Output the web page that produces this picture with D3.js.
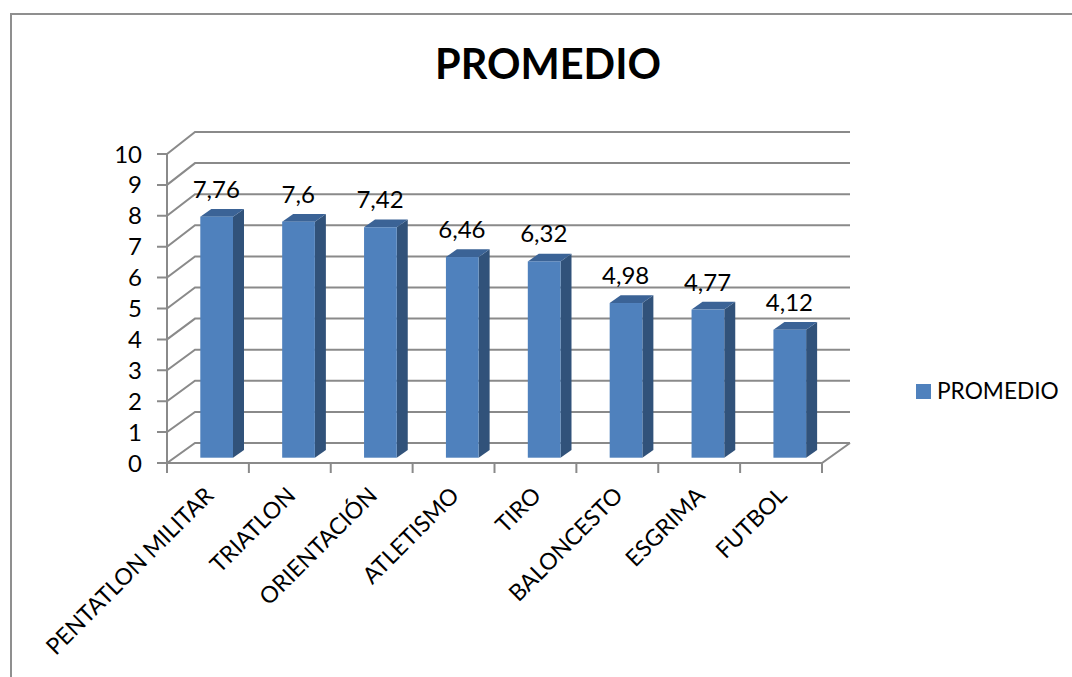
<!DOCTYPE html>
<html><head><meta charset="utf-8">
<script src="https://cdnjs.cloudflare.com/ajax/libs/d3/7.8.5/d3.min.js"></script>
<style>html,body{margin:0;padding:0;background:#fff}svg{display:block}text{font-family:Lato,"Open Sans",sans-serif;fill:#000}</style>
</head><body><svg id="c" width="1072" height="677"></svg>
<script>
const categories=["PENTATLON MILITAR","TRIATLON","ORIENTACIÓN","ATLETISMO","TIRO","BALONCESTO","ESGRIMA","FUTBOL"];
const valueLabels=["7,76","7,6","7,42","6,46","6,32","4,98","4,77","4,12"];
const values=[7.76,7.6,7.42,6.46,6.32,4.98,4.77,4.12];
const yTicks=[0,1,2,3,4,5,6,7,8,9,10];
const seriesName="PROMEDIO";
const svg=d3.select("#c");
const GRID="#8a8a8a",FRONT="#4f81bd",SIDE="#31527a",TOP="#3b6396";
// frame
svg.append("path").attr("d","M11,677V14H1072").attr("fill","none").attr("stroke","#8f8f8f").attr("stroke-width",2);
svg.append("text").attr("x",548).attr("y",79).attr("text-anchor","middle").attr("font-weight",700).attr("font-size",41.5).text("PROMEDIO");
const x=d3.scaleBand().domain(categories).range([167,822]);
const yFront=d3.scaleLinear().domain([0,10]).range([463,154]);
const yBack=d3.scaleLinear().domain([0,10]).range([443,132]);
const yBar=d3.scaleLinear().domain([0,10]).range([457.7,147.1]);
const g=svg.append("g").attr("fill","none").attr("stroke",GRID).attr("stroke-width",2);
// wall gridlines + diagonals + tick marks
yTicks.forEach(t=>{
 g.append("path").attr("d",`M157,${yFront(t)}H167L195,${yBack(t)}H850`);
});
g.append("path").attr("d",`M167,${yFront(10)}V${yFront(0)}H822L850,${yBack(0)}`);
// x ticks
d3.range(categories.length+1).forEach(i=>{
 const px=167+i*x.step();
 g.append("path").attr("d",`M${px},463V473`);
});
// bars
const bw=32.7,bd=11,bh=7.7,off=33.3;
const bars=svg.append("g").selectAll("g").data(categories).join("g");
bars.append("path").attr("fill",SIDE).attr("d",(c,i)=>{const l=x(c)+off+bw,b=yBar(0),t=yBar(values[i]);return `M${l},${t}l${bd},${-bh}V${b-bh}L${l},${b}Z`;});
bars.append("path").attr("fill",TOP).attr("d",(c,i)=>{const l=x(c)+off,t=yBar(values[i]);return `M${l},${t}l${bd},${-bh}h${bw}l${-bd},${bh}Z`;});
bars.append("rect").attr("fill",FRONT).attr("x",c=>x(c)+off).attr("width",bw).attr("y",(c,i)=>yBar(values[i])).attr("height",(c,i)=>yBar(0)-yBar(values[i]));
// data labels
svg.append("g").selectAll("text").data(categories).join("text").attr("text-anchor","middle").attr("font-size",24)
 .attr("x",c=>x(c)+off+16).attr("y",(c,i)=>yBar(values[i])-19).text((c,i)=>valueLabels[i]);
// y tick labels
svg.append("g").selectAll("text").data(yTicks).join("text").attr("text-anchor","end").attr("font-size",24)
 .attr("x",142).attr("y",t=>yFront(t)+8.5).text(t=>t);
// x labels
svg.append("g").selectAll("text").data(categories).join("text").attr("text-anchor","end").attr("font-size",23)
 .attr("transform",c=>`translate(${x(c)+x.bandwidth()/2+7},${497}) rotate(-45)`).text(c=>c);
// legend
svg.append("rect").attr("x",916).attr("y",384).attr("width",15).attr("height",15).attr("fill",FRONT);
svg.append("text").attr("x",937).attr("y",399).attr("font-size",22.7).text(seriesName);
</script></body></html>
